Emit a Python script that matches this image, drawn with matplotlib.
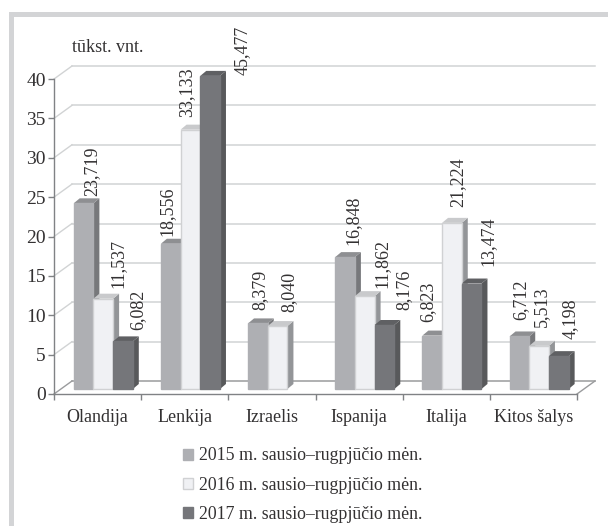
import numpy as np
import matplotlib
matplotlib.use('Agg')
import matplotlib.pyplot as plt
from matplotlib.patches import Polygon, Patch, Rectangle

plt.rcParams['font.family'] = ['Liberation Serif', 'DejaVu Serif']

categories = ['Olandija', 'Lenkija', 'Izraelis', 'Ispanija', 'Italija', 'Kitos šalys']
series_names = ['2015 m. sausio–rugpjūčio mėn.',
                '2016 m. sausio–rugpjūčio mėn.',
                '2017 m. sausio–rugpjūčio mėn.']
v2015 = [23.719, 18.556, 8.379, 16.848, 6.823, 6.712]
v2016 = [11.537, 33.133, 8.040, 11.862, 21.224, 5.513]
v2017 = [6.082, 45.477, np.nan, 8.176, 13.474, 4.198]
y_ticks = [0, 5, 10, 15, 20, 25, 30, 35, 40]

# label nudges in pixels, from the bar top (hand placed, the source has them all over)
label_dx = [[8, -4, 2, 8, -4, 1],
            [15, -4, 11, 17, 6, 2],
            [15, 32, 0, 20, 16, 11]]
label_dy = [[7, 7, 13, 11, 13, 16],
            [10, 12, 13, 7, 15, 18],
            [11, 0, 0, 14, 17, 16]]

W, H = 608, 526
DPI = 100
fig = plt.figure(figsize=(W / DPI, H / DPI), dpi=DPI, facecolor='white')

# grey frame, top and left only
frame = '#d3d4d6'
fig.patches.append(Rectangle((9 / W, 1 - 17 / H), (W - 9) / W, 5 / H, transform=fig.transFigure, color=frame, lw=0))
fig.patches.append(Rectangle((9 / W, 0), 5 / W, 1 - 12 / H, transform=fig.transFigure, color=frame, lw=0))

left, right, top, bottom = 54, 577, 79, 394
ax = fig.add_axes([left / W, 1 - bottom / H, (right - left) / W, (bottom - top) / H])
ax.set_xlim(0, 6)
ax.set_ylim(0, 40)
ax.patch.set_alpha(0)

# one pixel in data units
px_x = 6 / (right - left)
px_y = 40 / (bottom - top)

# back wall and floor
wall_dx = 18 * px_x
wall_dy = 13 * px_y
for t in y_ticks:
    col = '#d1d3d4' if t > 0 else '#9a9b9d'
    ax.plot([0, wall_dx], [t, t + wall_dy], color=col, lw=1, clip_on=False, zorder=1)
    ax.plot([wall_dx, 6 + wall_dx], [t + wall_dy, t + wall_dy], color=col, lw=1.1, clip_on=False, zorder=1)
ax.plot([6, 6 + wall_dx], [0, wall_dy], color='#9a9b9d', lw=1, clip_on=False, zorder=1)

# oblique bars
fills = ['#aeafb3', '#f0f1f4', '#75767a']
tops = ['#8e8f92', '#c9cacc', '#5f6063']
sides = ['#77787b', '#939598', '#58595b']
edges = ['#aeafb3', '#d0d1d3', '#75767a']
w = 19.7 * px_x
d_x = 6 * px_x
d_y = 5 * px_y
base = 5 * px_y
shift = 0.065

for j, vals in enumerate([v2015, v2016, v2017]):
    for i, v in enumerate(vals):
        if np.isnan(v):
            continue
        x0 = i + 0.5 + shift + (j - 1.5) * w
        x1 = x0 + w
        y1 = base + min(v, 40) * 0.994
        ax.add_patch(Polygon([(x1, base), (x1 + d_x, base + d_y), (x1 + d_x, y1 + d_y), (x1, y1)],
                             fc=sides[j], ec='none', zorder=3 + j, clip_on=False))
        ax.add_patch(Polygon([(x0, y1), (x1, y1), (x1 + d_x, y1 + d_y), (x0 + d_x, y1 + d_y)],
                             fc=tops[j], ec='none', zorder=3 + j, clip_on=False))
        ax.add_patch(Rectangle((x0, base), w, y1 - base, fc=fills[j], ec=edges[j], lw=1,
                               zorder=3 + j, clip_on=False))
        label = f'{v:.3f}'.replace('.', ',')
        ax.annotate(label, xy=(x0 + w / 2, y1 + d_y),
                    xytext=(label_dx[j][i] * 72 / DPI, label_dy[j][i] * 72 / DPI - 3),
                    textcoords='offset points', rotation=90, ha='center', va='bottom',
                    fontsize=13, color='#333132', zorder=10, annotation_clip=False)

# axes
for s in ['top', 'right']:
    ax.spines[s].set_visible(False)
for s in ['left', 'bottom']:
    ax.spines[s].set_color('#808285')
    ax.spines[s].set_linewidth(1)
ax.set_yticks(y_ticks)
ax.tick_params(axis='y', length=4, width=1, color='#808285', labelsize=14, labelcolor='#333132', pad=2)
ax.set_xticks(range(7))
ax.set_xticklabels([])
ax.set_xticks(np.arange(6) + 0.5, minor=True)
ax.set_xticklabels(categories, minor=True)
ax.tick_params(axis='x', which='major', length=4, width=1, color='#808285')
ax.tick_params(axis='x', which='minor', length=0, labelsize=13, labelcolor='#333132', pad=11)

fig.text(72 / W, 1 - 47 / H, 'tūkst. vnt.', fontsize=13, color='#333132', va='center', ha='left')

handles = [Patch(fc=fills[k], ec=edges[k], lw=1) for k in range(3)]
fig.legend(handles, series_names, loc='center left', bbox_to_anchor=(183 / W, 1 - 485 / H),
           frameon=False, fontsize=12.8, labelcolor='#333132', handlelength=0.56, handleheight=0.56,
           handletextpad=0.34, labelspacing=0.68, borderpad=0, borderaxespad=0)

fig.savefig('out.png', dpi=DPI)
